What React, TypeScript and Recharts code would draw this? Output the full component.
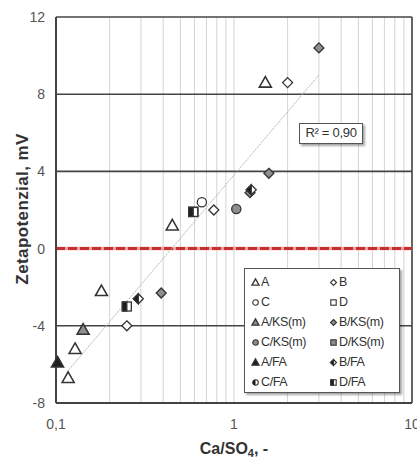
import React from "react";
import {
  ScatterChart,
  Scatter,
  XAxis,
  YAxis,
  CartesianGrid,
  ReferenceLine,
  Label,
} from "recharts";

// Values (x = Ca/SO4 on a log axis, y = zeta potential in mV)
const aX = [1.5, 0.45, 0.18, 0.128, 0.117];
const aY = [8.6, 1.2, -2.2, -5.2, -6.7];
const bX = [2.0, 0.77, 0.25];
const bY = [8.6, 2.0, -4.0];
const cX = [0.66];
const cY = [2.4];
const dX = [0.59];
const dY = [1.9];
const aKsX = [0.142];
const aKsY = [-4.2];
const bKsX = [3.0, 1.57, 1.23, 0.39];
const bKsY = [10.4, 3.9, 2.9, -2.3];
const cKsX = [1.03];
const cKsY = [2.05];
const dKsX = [0.59];
const dKsY = [1.9];
const aFaX = [0.102];
const aFaY = [-5.9];
const bFaX = [0.29, 1.25];
const bFaY = [-2.6, 3.05];
const cFaX: number[] = [];
const cFaY: number[] = [];
const dFaX = [0.25, 0.59];
const dFaY = [-3.0, 1.9];

// trend line end points
const trendX = [0.115, 3.0];
const trendY = [-6.4, 9.0];

const xGridTicks = [
  0.1, 0.2, 0.3, 0.4, 0.5, 0.6, 0.7, 0.8, 0.9, 1, 2, 3, 4, 5, 6, 7, 8, 9, 10,
];
const xLabelTicks = [0.1, 1, 10];
const yTicks = [-8, -4, 0, 4, 8, 12];
const yDarkLines = [-4, 4, 8, 12];

type Kind = "tri" | "dia" | "circ" | "sq";
type Fill = "open" | "gray" | "dark" | "half";

const STROKE = "#333";
const GRAY = "#8e8e8e";
const DARK = "#1e1e1e";

function Mark({ x, y, kind, fill, s = 1 }: { x: number; y: number; kind: Kind; fill: Fill; s?: number }) {
  const body = fill === "gray" ? GRAY : fill === "dark" ? DARK : "#fff";
  const sw = s < 1 ? 1.1 : 1.3;
  if (kind === "tri") {
    const w = 6 * s;
    const up = 6 * s;
    const dn = 4.5 * s;
    const f = fill === "half" ? DARK : body;
    return (
      <polygon
        points={`${x},${y - up} ${x + w},${y + dn} ${x - w},${y + dn}`}
        fill={f}
        stroke={STROKE}
        strokeWidth={sw * 1.2}
      />
    );
  }
  if (kind === "dia") {
    const h = 5 * s;
    return (
      <g>
        <polygon points={`${x},${y - h} ${x + h},${y} ${x},${y + h} ${x - h},${y}`} fill={body} stroke={STROKE} strokeWidth={sw} />
        {fill === "half" && <polygon points={`${x},${y - h} ${x},${y + h} ${x - h},${y}`} fill={DARK} stroke={STROKE} strokeWidth={sw} />}
      </g>
    );
  }
  if (kind === "circ") {
    const r = 4.6 * s;
    return (
      <g>
        <circle cx={x} cy={y} r={r} fill={body} stroke={STROKE} strokeWidth={sw} />
        {fill === "half" && <path d={`M ${x} ${y - r} A ${r} ${r} 0 0 0 ${x} ${y + r} Z`} fill={DARK} />}
      </g>
    );
  }
  const h = 4.5 * s;
  return (
    <g>
      <rect x={x - h} y={y - h} width={2 * h} height={2 * h} fill={body} stroke={STROKE} strokeWidth={sw} />
      {fill === "half" && <rect x={x - h} y={y - h} width={h} height={2 * h} fill={DARK} stroke={STROKE} strokeWidth={sw} />}
    </g>
  );
}

const toPoints = (xs: number[], ys: number[]) => xs.map((x, i) => ({ x, y: ys[i] }));

const series: { name: string; kind: Kind; fill: Fill; xs: number[]; ys: number[] }[] = [
  { name: "A", kind: "tri", fill: "open", xs: aX, ys: aY },
  { name: "B", kind: "dia", fill: "open", xs: bX, ys: bY },
  { name: "C", kind: "circ", fill: "open", xs: cX, ys: cY },
  { name: "D", kind: "sq", fill: "open", xs: dX, ys: dY },
  { name: "A/KS(m)", kind: "tri", fill: "gray", xs: aKsX, ys: aKsY },
  { name: "B/KS(m)", kind: "dia", fill: "gray", xs: bKsX, ys: bKsY },
  { name: "C/KS(m)", kind: "circ", fill: "gray", xs: cKsX, ys: cKsY },
  { name: "D/KS(m)", kind: "sq", fill: "gray", xs: dKsX, ys: dKsY },
  { name: "A/FA", kind: "tri", fill: "half", xs: aFaX, ys: aFaY },
  { name: "B/FA", kind: "dia", fill: "half", xs: bFaX, ys: bFaY },
  { name: "C/FA", kind: "circ", fill: "half", xs: cFaX, ys: cFaY },
  { name: "D/FA", kind: "sq", fill: "half", xs: dFaX, ys: dFaY },
];

const FONT = "'Liberation Sans', Arial, sans-serif";

function LegendBox() {
  return (
    <div
      style={{
        position: "absolute",
        left: 244,
        top: 268,
        width: 156,
        height: 125,
        boxSizing: "border-box",
        background: "#fff",
        border: "1.5px solid #555",
        boxShadow: "2px 2px 2px rgba(0,0,0,0.35)",
        padding: "3px 0 0 6px",
        display: "grid",
        gridTemplateColumns: "78px 72px",
        gridAutoRows: "20px",
        fontFamily: FONT,
        fontSize: 12.5,
        color: "#333",
        letterSpacing: -0.4,
      }}
    >
      {series.map((s) => (
        <div key={s.name} style={{ display: "flex", alignItems: "center" }}>
          <svg width={9} height={12} style={{ marginRight: 1 }}>
            <Mark x={4.5} y={6.5} kind={s.kind} fill={s.fill} s={0.6} />
          </svg>
          <span>{s.name}</span>
        </div>
      ))}
    </div>
  );
}

export default function App() {
  const fmtX = (v: number) => (xLabelTicks.includes(v) ? String(v).replace(".", ",") : "");
  return (
    <div style={{ position: "absolute", left: 0, top: 0, width: 417, height: 459, background: "#fff" }}>
      <ScatterChart width={417} height={459} margin={{ top: 17, right: 5, bottom: 0, left: 10 }}>
        <CartesianGrid horizontal={false} vertical stroke="#d4d4d4" strokeWidth={1} />
        <XAxis
          type="number"
          dataKey="x"
          scale="log"
          domain={[0.1, 10]}
          ticks={xGridTicks}
          interval={0}
          tickFormatter={fmtX}
          tickLine={false}
          axisLine={{ stroke: "#444", strokeWidth: 2 }}
          tick={{ fill: "#555", fontSize: 14, fontFamily: FONT }}
          tickMargin={10}
          height={56}
        >
          <Label
            content={() => (
              <text x={234} y={454} textAnchor="middle" fontFamily={FONT} fontSize={16} fontWeight="bold" fill="#333">
                Ca/SO<tspan fontSize={11} dy={3}>4</tspan>
                <tspan dy={-3}>, -</tspan>
              </text>
            )}
          />
        </XAxis>
        <YAxis
          type="number"
          dataKey="y"
          domain={[-8, 12]}
          ticks={yTicks}
          interval={0}
          tickLine={false}
          axisLine={{ stroke: "#444", strokeWidth: 2 }}
          tick={{ fill: "#555", fontSize: 14, fontFamily: FONT }}
          tickMargin={5}
          width={46}
        >
          <Label
            content={() => (
              <text
                x={0}
                y={0}
                transform="translate(28 209) rotate(-90)"
                textAnchor="middle"
                fontFamily={FONT}
                fontSize={17}
                fontWeight="bold"
                fill="#333"
                letterSpacing={0.4}
              >
                Zetapotenzial, mV
              </text>
            )}
          />
        </YAxis>
        {yDarkLines.map((v) => (
          <ReferenceLine key={v} y={v} stroke="#444" strokeWidth={1.6} />
        ))}
        <ReferenceLine x={10} stroke="#444" strokeWidth={1.6} />
        <ReferenceLine y={0} stroke="#eaa0a0" strokeWidth={3.5} />
        <ReferenceLine y={0} stroke="#c8302f" strokeWidth={3} strokeDasharray="9 3" />
        <Scatter
          data={toPoints(trendX, trendY)}
          line={{ stroke: "#b4b4b4", strokeWidth: 1, strokeDasharray: "2 1" }}
          shape={() => <g />}
          isAnimationActive={false}
          legendType="none"
        />
        {series.map((s) => (
          <Scatter
            key={s.name}
            name={s.name}
            data={toPoints(s.xs, s.ys)}
            isAnimationActive={false}
            shape={(p: any) => <Mark x={p.cx} y={p.cy} kind={s.kind} fill={s.fill} />}
          />
        ))}
      </ScatterChart>
      <LegendBox />
      <div
        style={{
          position: "absolute",
          left: 299,
          top: 123,
          width: 64,
          height: 21,
          boxSizing: "border-box",
          border: "1.5px solid #555",
          background: "#fff",
          boxShadow: "2px 2px 2px rgba(0,0,0,0.35)",
          fontFamily: FONT,
          fontSize: 13,
          color: "#333",
          textAlign: "center",
          lineHeight: "18px",
          letterSpacing: -0.3,
        }}
      >
        R² = 0,90
      </div>
    </div>
  );
}
